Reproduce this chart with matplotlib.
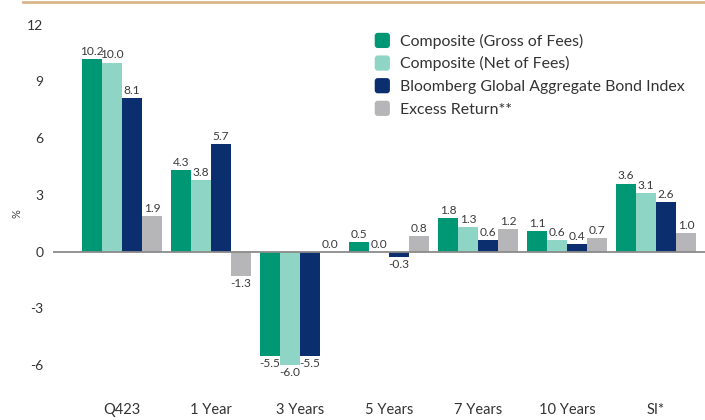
import matplotlib
matplotlib.use("Agg")
import matplotlib.pyplot as plt
from matplotlib.lines import Line2D
from matplotlib.patches import FancyBboxPatch
from matplotlib.legend_handler import HandlerBase
import numpy as np

plt.rcParams['font.family'] = ['Lato', 'DejaVu Sans']

categories = ["Q423", "1 Year", "3 Years", "5 Years", "7 Years", "10 Years", "SI*"]
series_names = ["Composite (Gross of Fees)", "Composite (Net of Fees)",
                "Bloomberg Global Aggregate Bond Index", "Excess Return**"]
gross = [10.2, 4.3, -5.5, 0.5, 1.8, 1.1, 3.6]
net = [10.0, 3.8, -6.0, 0.0, 1.3, 0.6, 3.1]
index = [8.1, 5.7, -5.5, -0.3, 0.6, 0.4, 2.6]
excess = [1.9, -1.3, 0.0, 0.8, 1.2, 0.7, 1.0]
colors = ["#009775", "#8ED5C5", "#0B2F6E", "#B6B6B8"]
yticks = [-6, -3, 0, 3, 6, 9, 12]


class RoundSquareHandler(HandlerBase):
    def create_artists(self, legend, orig_handle, xdescent, ydescent, width, height, fontsize, trans):
        s = min(width, height)
        p = FancyBboxPatch((-xdescent + (width - s) / 2, -ydescent + (height - s) / 2), s, s,
                           boxstyle=f"round,pad=0,rounding_size={s*0.2}",
                           facecolor=orig_handle.patches[0].get_facecolor(),
                           edgecolor="none", transform=trans)
        return [p]


fig = plt.figure(figsize=(7.05, 4.2), dpi=100)
ax = fig.add_axes([0.0752, 0.0857, 0.9248, 0.8555])

x = np.arange(len(categories))
w = 0.225
data = [gross, net, index, excess]
containers = []
for i, (vals, c, name) in enumerate(zip(data, colors, series_names)):
    pos = x + (i - 1.5) * w
    bars = ax.bar(pos, vals, width=w, color=c, label=name, zorder=2)
    containers.append(bars)
    for xp, v in zip(pos, vals):
        if v >= 0:
            ax.annotate(f"{v:.1f}", (xp, v), xytext=(0, 1.5), textcoords="offset points",
                        ha="center", va="bottom", fontsize=8.6, color="#3a3a3a")
        else:
            ax.annotate(f"{v:.1f}", (xp, v), xytext=(0, -1.5), textcoords="offset points",
                        ha="center", va="top", fontsize=8.6, color="#3a3a3a")

ax.axhline(0, color="#8a8a8a", linewidth=1.3, zorder=3)
ax.set_xlim(-0.775, 6.55)
ax.set_ylim(-7, 12)
ax.set_yticks(yticks)
ax.set_yticklabels([str(t) for t in yticks])
ax.set_xticks(x)
ax.set_xticklabels(categories)
ax.tick_params(axis='y', length=0, pad=7, labelsize=10, labelcolor="#333333")
ax.tick_params(axis='x', length=0, pad=14, labelsize=10.5, labelcolor="#333333")
for s in ax.spines.values():
    s.set_visible(False)
fig.text(17/705, 1 - 214/420, "%", rotation=90, fontsize=8, color="#444444",
         ha="center", va="center")

leg = ax.legend(containers, series_names, loc="upper left", bbox_to_anchor=(0.482, 0.995),
                frameon=False, fontsize=11.4, handlelength=1.1, handleheight=1.1,
                handletextpad=0.55, labelspacing=0.42, borderaxespad=0,
                handler_map={type(containers[0]): RoundSquareHandler()})
for t in leg.get_texts():
    t.set_color("#333333")

fig.add_artist(Line2D([23/705, 1.0], [1 - 2/420, 1 - 2/420], transform=fig.transFigure,
                      color="#D9B58C", linewidth=2))

fig.savefig("out.png", dpi=100)
